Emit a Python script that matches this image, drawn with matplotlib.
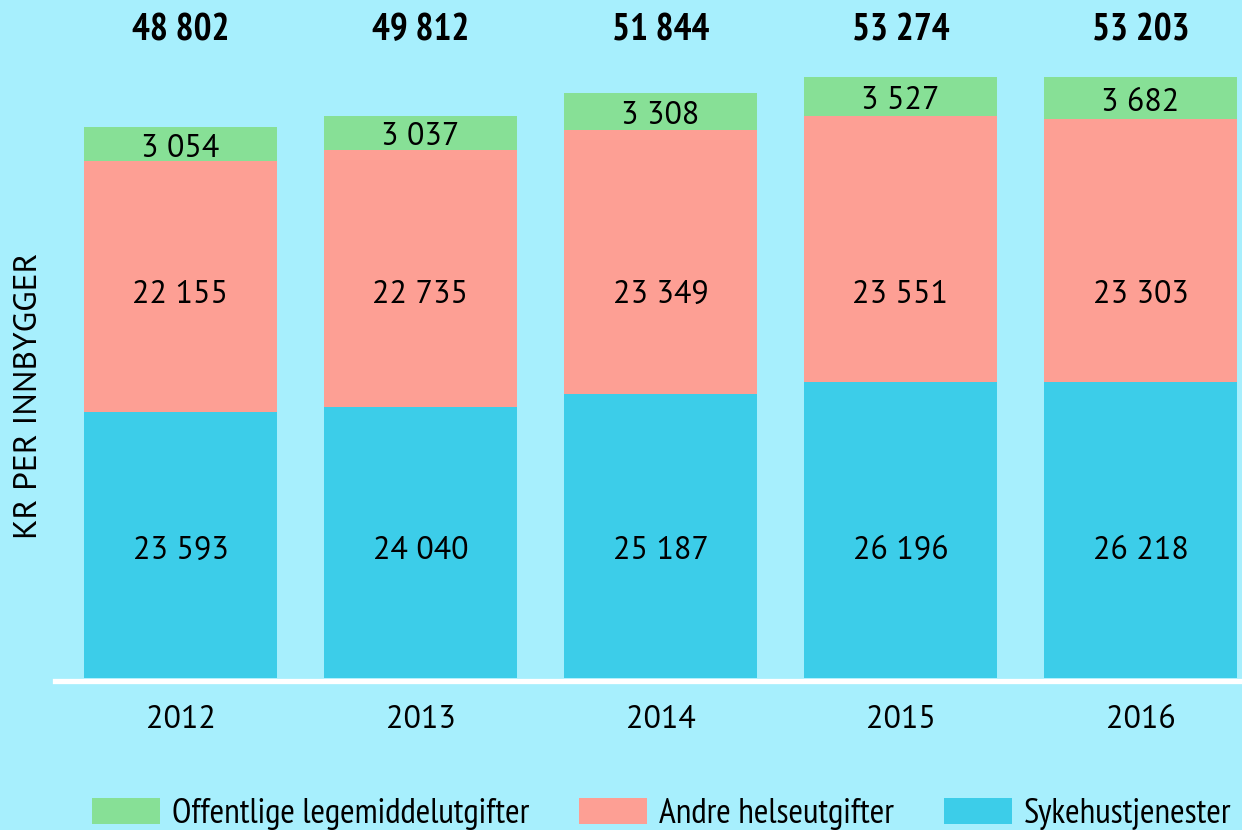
import matplotlib
matplotlib.use("Agg")
import matplotlib.pyplot as plt
from matplotlib import font_manager as fm
import os
import numpy as np

# data (kr per innbygger)
years = ["2012", "2013", "2014", "2015", "2016"]
sykehus = [23593, 24040, 25187, 26196, 26218]
andre = [22155, 22735, 23349, 23551, 23303]
legemiddel = [3054, 3037, 3308, 3527, 3682]
totals = [48802, 49812, 51844, 53274, 53203]
series_names = ["Offentlige legemiddelutgifter", "Andre helseutgifter", "Sykehustjenester"]

bg = "#a7effd"
c_blue = "#3ccde9"
c_red = "#fd9f94"
c_green = "#87e096"

font_files = sorted({f.fname for f in fm.fontManager.ttflist})


def pick(cands, fallback):
    for c in cands:
        for p in font_files:
            base = os.path.basename(p)
            if base.startswith(c) and "italic" not in base.lower():
                return fm.FontProperties(fname=p)
    return fm.FontProperties(family=fallback)


narrow = pick(["PT_Sans-Narrow-Web-Regular", "PTSansNarrow-Regular",
               "FiraSansCondensed-Regular", "BarlowSemiCondensed-Regular"], "DejaVu Sans")
narrow_b = pick(["PT_Sans-Narrow-Web-Bold", "PTSansNarrow-Bold",
                 "FiraSansCondensed-Bold", "BarlowSemiCondensed-Bold"], "DejaVu Sans")
regular = pick(["PT_Sans-Web-Regular", "PTSans-Regular", "OpenSans-Regular"], "Open Sans")


def fmt(v):
    return f"{v:,}".replace(",", " ")


W, H = 1242, 830
fig = plt.figure(figsize=(W / 100, H / 100), dpi=100, facecolor=bg)
base_px = 678
ax = fig.add_axes([0, (H - base_px) / H, 1, base_px / H])
ax.set_facecolor(bg)
px_per_unit = 551 / totals[0]

x = np.arange(len(years))
w = 193 / 240
b1 = ax.bar(x, sykehus, w, color=c_blue, label=series_names[2])
b2 = ax.bar(x, andre, w, bottom=sykehus, color=c_red, label=series_names[1])
bottom3 = np.array(sykehus) + np.array(andre)
b3 = ax.bar(x, legemiddel, w, bottom=bottom3, color=c_green, label=series_names[0])

xmin = -180.5 / 240
ax.set_xlim(xmin, xmin + W / 240)
ax.set_ylim(0, base_px / px_per_unit)
ax.axis("off")
# white baseline just under the bars
ax.axhline(-2.5 / px_per_unit, xmin=55 / W, xmax=1, color="white", lw=3.8,
           zorder=5, clip_on=False)

trans = ax.get_xaxis_transform()
for i in range(len(years)):
    ax.text(x[i], (base_px - 551) / base_px, fmt(sykehus[i]), transform=trans,
            ha="center", va="center", fontproperties=regular, fontsize=23)
    ax.text(x[i], (base_px - 295) / base_px, fmt(andre[i]), transform=trans,
            ha="center", va="center", fontproperties=regular, fontsize=23)
    ax.text(x[i], bottom3[i] + legemiddel[i] / 2 - 400, fmt(legemiddel[i]),
            ha="center", va="center", fontproperties=regular, fontsize=23)
    ax.text(x[i], (base_px - 31) / base_px, fmt(totals[i]), transform=trans,
            ha="center", va="center", fontproperties=narrow_b, fontsize=27)
    ax.text(x[i], -(720 - base_px) / base_px, years[i], transform=trans,
            ha="center", va="center", fontproperties=regular, fontsize=23,
            clip_on=False)

fig.text(29 / W, (H - 396) / H, "KR PER INNBYGGER", rotation=90, ha="center",
         va="center", fontproperties=regular, fontsize=24)

fs = 25.5
fpx = fs * 100 / 72
prop = narrow.copy()
prop.set_size(fs)
leg = fig.legend([b3, b2, b1], series_names, loc="center left",
                 bbox_to_anchor=(92 / W, (H - 814) / H), ncol=3, frameon=False,
                 prop=prop, handlelength=68 / fpx,
                 handleheight=27 / fpx, handletextpad=12 / fpx,
                 columnspacing=50 / fpx, borderpad=0, borderaxespad=0)

fig.savefig("out.png", dpi=100, facecolor=bg)
